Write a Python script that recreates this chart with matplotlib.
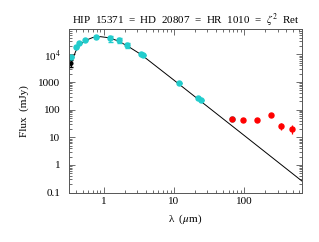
import matplotlib
matplotlib.use('Agg')
import matplotlib.pyplot as plt
from matplotlib.ticker import LogLocator, FixedLocator, FixedFormatter, NullFormatter

plt.rcParams['mathtext.fontset'] = 'stix'

# photometry (cyan), microns / mJy
wl = [0.342, 0.41, 0.445, 0.55, 0.785, 1.22, 1.65, 2.15, 3.35, 3.6, 11.7, 22.3, 24.1, 68]
flux = [7800, 18800, 25000, 33000, 43000, 38000, 33000, 21700, 10200, 9800, 940, 270, 230, 48]
ferr = [0, 0, 0, 0, 0, 9000, 7000, 5000, 0, 0, 0, 0, 0, 0]

# far-IR excess (red)
wl_ir = [68, 97.5, 154, 242, 336, 486]
flux_ir = [45, 41, 44, 62, 26, 20.6]
ferr_ir = [5, 4, 4, 6, 7, 7]

# black point at blue end
wl_b = [0.34]
flux_b = [5000]
ferr_b = [1500]

# photosphere model
wl_mod = [0.32, 0.35, 0.40, 0.45, 0.55, 0.70, 0.90, 1.2, 1.6, 2.2, 3.4, 10, 100, 670]
flux_mod = [3000, 5500, 13000, 21000, 32000, 41000, 44000, 40000, 31000, 20000, 10000, 1180, 11.8, 0.26]

fig = plt.figure(figsize=(3.19, 2.42), dpi=100)
ax = fig.add_axes([0.216, 0.204, 0.731, 0.676])

ax.plot(wl_mod, flux_mod, color='black', lw=0.7)
ax.errorbar(wl_b, flux_b, yerr=ferr_b, fmt='o', color='black', ms=2, lw=0.7, capsize=1.5)
ax.errorbar(wl, flux, yerr=ferr, fmt='o', color='#22cccc', ms=3.6, lw=0.9, capsize=1.8)
ax.errorbar(wl_ir, flux_ir, yerr=ferr_ir, fmt='o', color='#ff0000', ms=3.6, lw=0.9, capsize=0)

ax.set_xscale('log')
ax.set_yscale('log')
ax.set_xlim(0.32, 670)
ax.set_ylim(0.1, 8.3e4)

ax.xaxis.set_major_locator(FixedLocator([1, 10, 100]))
ax.xaxis.set_major_formatter(FixedFormatter(['1', '10', '100']))
ax.xaxis.set_minor_locator(LogLocator(base=10, subs=range(2, 10)))
ax.xaxis.set_minor_formatter(NullFormatter())
ax.yaxis.set_major_locator(FixedLocator([0.1, 1, 10, 100, 1000, 1e4]))
ax.yaxis.set_major_formatter(FixedFormatter(['0.1', '1', '10', '100', '1000', r'10$^4$']))
ax.yaxis.set_minor_locator(LogLocator(base=10, subs=range(2, 10)))
ax.yaxis.set_minor_formatter(NullFormatter())

ax.tick_params(which='both', direction='in', top=True, right=True, width=0.6, color='#555555')
ax.tick_params(which='major', length=4, labelsize=8)
ax.tick_params(which='minor', length=2)
ax.tick_params(axis='y', which='major', pad=6)
for lab in ax.get_xticklabels() + ax.get_yticklabels():
    lab.set_family('Liberation Serif')
for s in ax.spines.values():
    s.set_linewidth(0.7)
    s.set_color('#555555')

ax.set_xlabel(r'λ  ($\mu$m)', family='Liberation Serif', fontsize=8)
ax.set_ylabel('Flux  (mJy)', family='Liberation Serif', fontsize=8, labelpad=7)
ax.set_title(r'HIP  15371  =  HD  20807  =  HR  1010  =  $\zeta^2$  Ret',
             family='Liberation Serif', fontsize=7.9, pad=1.5)

plt.savefig('out.png', dpi=100)
